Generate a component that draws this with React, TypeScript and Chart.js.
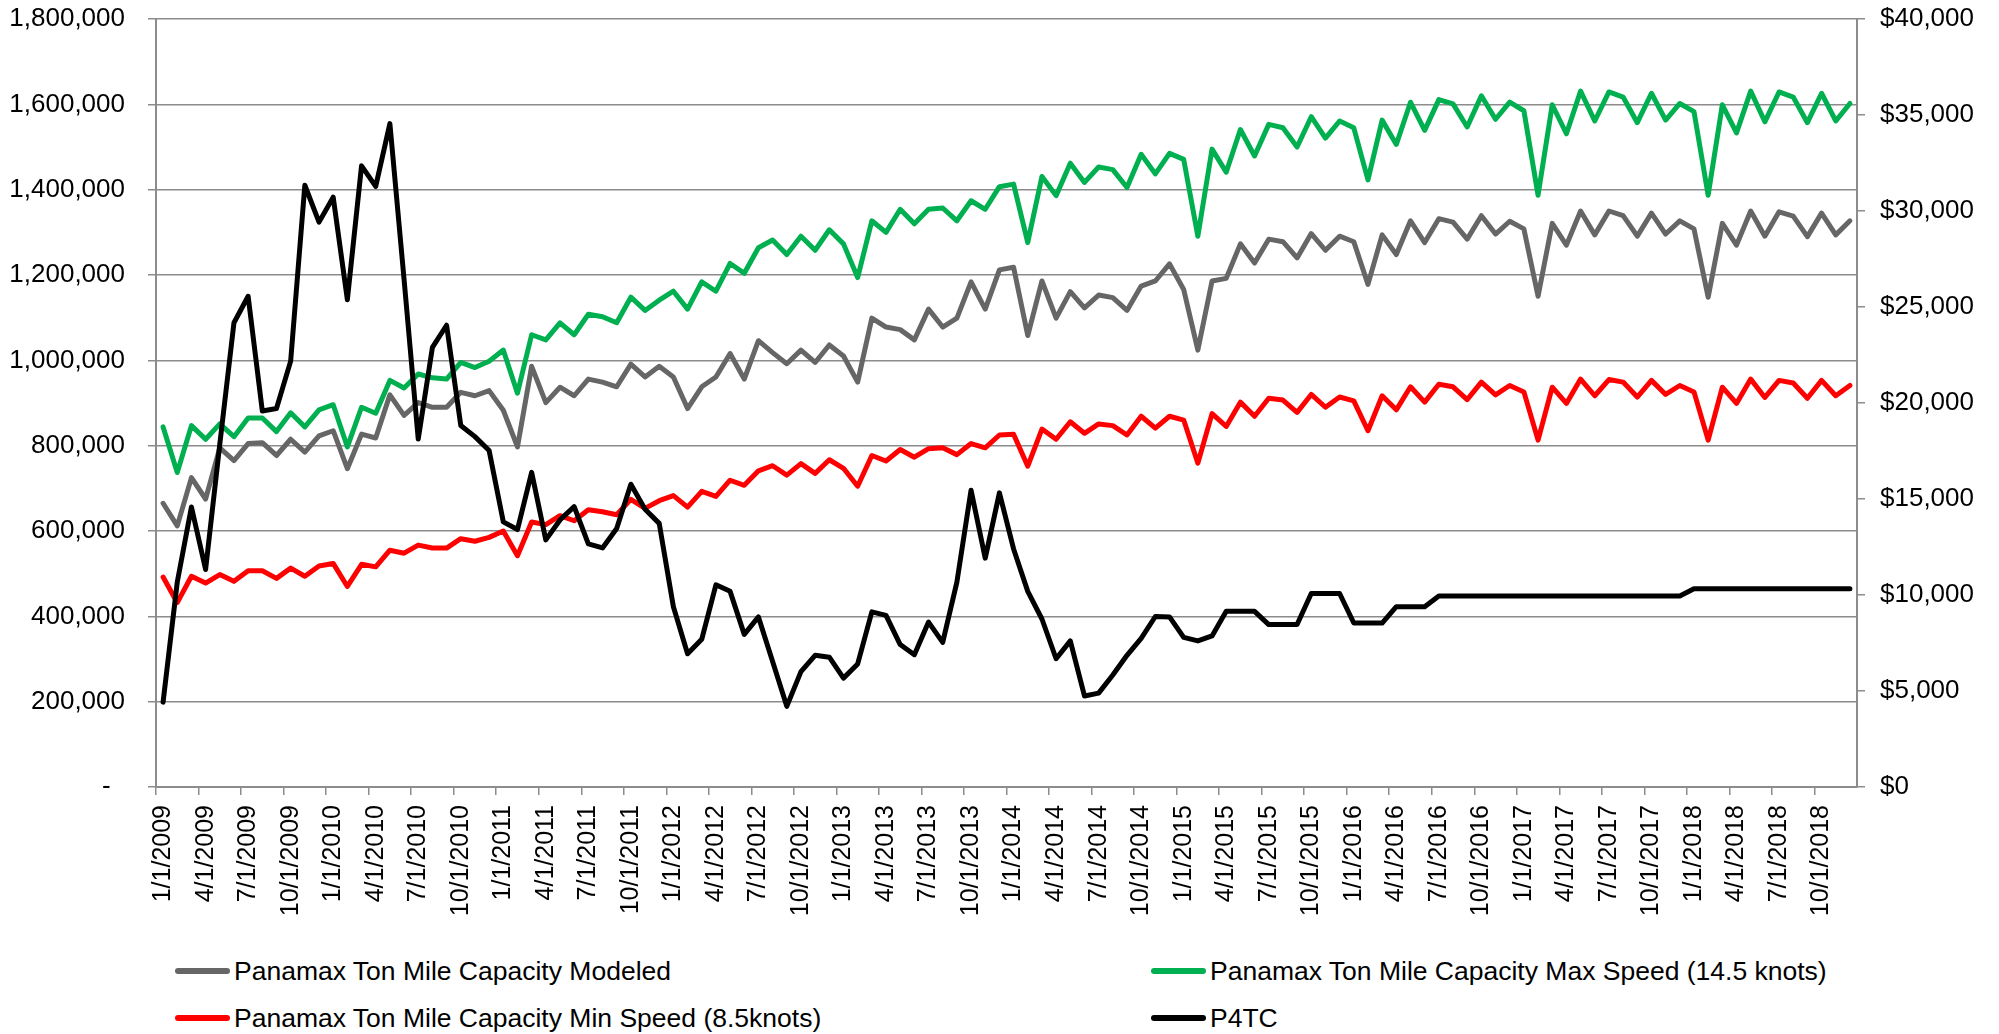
import React, { useEffect, useRef } from 'react';
import { Chart, registerables } from 'chart.js';

Chart.register(...registerables);

// ---------- data ----------
const MONTHS = [1, 2, 3, 4, 5, 6, 7, 8, 9, 10, 11, 12];
const YEARS = [2009, 2010, 2011, 2012, 2013, 2014, 2015, 2016, 2017, 2018];
const categories: string[] = YEARS.flatMap((y) => MONTHS.map((m) => `${m}/1/${y}`));

const seriesNames = [
  'Panamax Ton Mile Capacity Modeled',
  'Panamax Ton Mile Capacity Max Speed (14.5 knots)',
  'Panamax Ton Mile Capacity Min Speed (8.5knots)',
  'P4TC',
];

const modeled = [
  665000, 612000, 725000, 675000, 795000, 765000, 805000, 807000, 777000, 815000, 785000, 823000,
  835000, 746000, 827000, 818000, 919000, 871000, 901000, 890000, 890000, 925000, 917000, 929000,
  883000, 797000, 986000, 901000, 937000, 917000, 956000, 949000, 938000, 991000, 961000, 986000,
  961000, 887000, 938000, 961000, 1016000, 956000, 1046000, 1018000, 992000, 1024000, 995000, 1036000,
  1010000, 949000, 1099000, 1078000, 1072000, 1048000, 1120000, 1078000, 1099000, 1184000, 1120000, 1212000,
  1218000, 1058000, 1186000, 1099000, 1161000, 1123000, 1153000, 1147000, 1117000, 1174000, 1186000, 1226000,
  1166000, 1024000, 1186000, 1192000, 1273000, 1228000, 1284000, 1278000, 1240000, 1297000, 1258000, 1291000,
  1278000, 1178000, 1294000, 1248000, 1327000, 1276000, 1332000, 1324000, 1284000, 1339000, 1296000, 1326000,
  1308000, 1150000, 1321000, 1270000, 1350000, 1294000, 1350000, 1339000, 1291000, 1345000, 1296000, 1327000,
  1308000, 1148000, 1321000, 1270000, 1350000, 1291000, 1348000, 1338000, 1290000, 1345000, 1294000, 1327000,
];

const maxSpeed = [
  844000, 737000, 847000, 815000, 851000, 821000, 865000, 865000, 833000, 877000, 844000, 884000,
  896000, 797000, 890000, 876000, 953000, 935000, 968000, 959000, 956000, 995000, 983000, 998000,
  1024000, 923000, 1060000, 1048000, 1088000, 1060000, 1108000, 1102000, 1088000, 1148000, 1117000, 1141000,
  1162000, 1120000, 1184000, 1162000, 1227000, 1204000, 1264000, 1282000, 1248000, 1291000, 1258000, 1306000,
  1273000, 1194000, 1327000, 1300000, 1354000, 1320000, 1354000, 1357000, 1327000, 1374000, 1354000, 1407000,
  1413000, 1276000, 1431000, 1386000, 1462000, 1417000, 1453000, 1447000, 1405000, 1483000, 1437000, 1485000,
  1471000, 1291000, 1495000, 1441000, 1541000, 1479000, 1553000, 1545000, 1500000, 1571000, 1521000, 1561000,
  1545000, 1423000, 1563000, 1506000, 1605000, 1539000, 1611000, 1601000, 1547000, 1620000, 1565000, 1605000,
  1585000, 1387000, 1599000, 1531000, 1631000, 1561000, 1629000, 1617000, 1557000, 1626000, 1563000, 1602000,
  1583000, 1387000, 1599000, 1533000, 1631000, 1559000, 1629000, 1617000, 1557000, 1626000, 1561000, 1602000,
];

const minSpeed = [
  492000, 432000, 494000, 478000, 498000, 482000, 507000, 507000, 489000, 513000, 494000, 518000,
  524000, 470000, 522000, 516000, 555000, 548000, 567000, 560000, 560000, 582000, 576000, 585000,
  600000, 542000, 621000, 615000, 636000, 624000, 650000, 645000, 638000, 674000, 653000, 671000,
  683000, 656000, 693000, 681000, 719000, 707000, 741000, 753000, 731000, 758000, 735000, 767000,
  747000, 705000, 777000, 764000, 791000, 773000, 793000, 795000, 779000, 805000, 795000, 825000,
  827000, 752000, 839000, 815000, 856000, 829000, 851000, 847000, 825000, 869000, 841000, 869000,
  860000, 759000, 875000, 845000, 902000, 869000, 911000, 907000, 878000, 920000, 890000, 914000,
  905000, 835000, 917000, 884000, 938000, 902000, 944000, 938000, 908000, 949000, 919000, 941000,
  926000, 813000, 937000, 899000, 956000, 917000, 955000, 949000, 914000, 953000, 920000, 941000,
  926000, 813000, 937000, 899000, 956000, 913000, 953000, 947000, 911000, 953000, 917000, 941000,
];

const p4tc = [
  4420, 10670, 14580, 11330, 17850, 24180, 25560, 19580, 19710, 22180, 31340, 29420,
  30720, 25380, 32350, 31280, 34550, 26440, 18120, 22900, 24050, 18830, 18250, 17530,
  13810, 13410, 16390, 12870, 13910, 14600, 12660, 12450, 13460, 15770, 14470, 13730,
  9390, 6940, 7690, 10530, 10190, 7950, 8860, 6540, 4200, 6010, 6860, 6760,
  5670, 6410, 9120, 8940, 7420, 6890, 8590, 7530, 10670, 15460, 11920, 15320,
  12400, 10190, 8750, 6680, 7610, 4740, 4890, 5830, 6860, 7740, 8880, 8860,
  7790, 7610, 7870, 9150, 9150, 9150, 8460, 8460, 8460, 10080, 10080, 10080,
  8540, 8540, 8540, 9390, 9390, 9390, 9950, 9950, 9950, 9950, 9950, 9950,
  9950, 9950, 9950, 9950, 9950, 9950, 9950, 9950, 9950, 9950, 9950, 9950,
  10320, 10320, 10320, 10320, 10320, 10320, 10320, 10320, 10320, 10320, 10320, 10320,
];

const seriesColors = ['#666666', '#00B050', '#FF0000', '#000000'];

// ---------- layout / style ----------
const FONT = '"Liberation Sans", Arial, Helvetica, sans-serif';
const X_FONT_SIZE = 25;
const Y_FONT_SIZE = 26;
const LEGEND_FONT_SIZE = 26.5;
const GRID = '#8c8c8c';
const CANVAS_W = 1999;
const CANVAS_H = 930;
const PLOT_TOP = 19;
const PLOT_BOTTOM = 787;

export default function App() {
  const canvasRef = useRef<HTMLCanvasElement | null>(null);

  useEffect(() => {
    const canvas = canvasRef.current;
    if (!canvas) return;
    const xFont = { family: FONT, size: X_FONT_SIZE };
    const yFont = { family: FONT, size: Y_FONT_SIZE };
    const chart = new Chart(canvas, {
      type: 'line',
      data: {
        labels: categories,
        datasets: [
          { label: seriesNames[0], data: modeled, borderColor: seriesColors[0], backgroundColor: seriesColors[0], yAxisID: 'y', order: 4 },
          { label: seriesNames[1], data: maxSpeed, borderColor: seriesColors[1], backgroundColor: seriesColors[1], yAxisID: 'y', order: 3 },
          { label: seriesNames[2], data: minSpeed, borderColor: seriesColors[2], backgroundColor: seriesColors[2], yAxisID: 'y', order: 2 },
          { label: seriesNames[3], data: p4tc, borderColor: seriesColors[3], backgroundColor: seriesColors[3], yAxisID: 'y1', order: 1 },
        ],
      },
      options: {
        responsive: false,
        animation: false,
        layout: { padding: { top: PLOT_TOP, left: 0, right: 0, bottom: 0 } },
        plugins: { legend: { display: false }, tooltip: { enabled: false } },
        elements: {
          point: { radius: 0, hoverRadius: 0 },
          line: { tension: 0, borderWidth: 5, borderJoinStyle: 'round', borderCapStyle: 'round' },
        },
        scales: {
          x: {
            type: 'category',
            offset: true,
            grid: {
              offset: true,
              drawOnChartArea: false,
              drawTicks: true,
              tickLength: 8,
              lineWidth: 1.5,
              color: (ctx: any) => (typeof ctx.index === 'number' && ctx.index % 3 === 0 ? GRID : 'rgba(0,0,0,0)'),
            },
            border: { display: true, color: GRID, width: 2 },
            ticks: {
              autoSkip: false,
              maxRotation: 90,
              minRotation: 90,
              padding: 10,
              color: '#000000',
              font: xFont,
              callback: (_v: any, i: number) => (i % 3 === 0 ? categories[i] : ''),
            },
            afterFit: (s: any) => {
              s.height = CANVAS_H - PLOT_BOTTOM;
            },
          },
          y: {
            position: 'left',
            min: 0,
            max: 1800000,
            grid: { color: GRID, lineWidth: 1.5, tickLength: 8 },
            border: { display: true, color: GRID, width: 2 },
            ticks: {
              stepSize: 200000,
              padding: 23,
              color: '#000000',
              font: yFont,
              callback: (v: any) => (Number(v) === 0 ? '-  ' : Number(v).toLocaleString('en-US')),
            },
            afterFit: (s: any) => {
              s.width = 156;
              s.paddingTop = 0;
              s.paddingBottom = 0;
            },
          },
          y1: {
            position: 'right',
            min: 0,
            max: 40000,
            grid: { drawOnChartArea: false, color: GRID, lineWidth: 1.5, tickLength: 8 },
            border: { display: true, color: GRID, width: 2 },
            ticks: {
              stepSize: 5000,
              padding: 15,
              color: '#000000',
              font: yFont,
              callback: (v: any) => '$' + Number(v).toLocaleString('en-US'),
            },
            afterFit: (s: any) => {
              s.width = 142;
              s.paddingTop = 0;
              s.paddingBottom = 0;
            },
          },
        },
      },
    } as any);
    return () => chart.destroy();
  }, []);

  const legendItems = [
    { name: seriesNames[0], color: seriesColors[0], left: 175, top: 971 },
    { name: seriesNames[1], color: seriesColors[1], left: 1151, top: 971 },
    { name: seriesNames[2], color: seriesColors[2], left: 175, top: 1018 },
    { name: seriesNames[3], color: seriesColors[3], left: 1151, top: 1018 },
  ];

  return (
    <div
      style={{
        position: 'absolute',
        left: 0,
        top: 0,
        width: CANVAS_W,
        height: 1034,
        background: '#ffffff',
        fontFamily: FONT,
        overflow: 'hidden',
      }}
    >
      <canvas
        ref={canvasRef}
        width={CANVAS_W}
        height={CANVAS_H}
        style={{ position: 'absolute', left: 0, top: 0, width: CANVAS_W, height: CANVAS_H }}
      />
      {legendItems.map((it) => (
        <div
          key={it.name}
          style={{
            position: 'absolute',
            left: it.left,
            top: it.top - 16,
            height: 32,
            display: 'flex',
            alignItems: 'center',
            whiteSpace: 'nowrap',
            fontSize: LEGEND_FONT_SIZE,
            color: '#000000',
          }}
        >
          <span
            style={{
              display: 'inline-block',
              width: 55,
              height: 6,
              borderRadius: 3,
              background: it.color,
              marginRight: 4,
            }}
          />
          <span>{it.name}</span>
        </div>
      ))}
    </div>
  );
}
